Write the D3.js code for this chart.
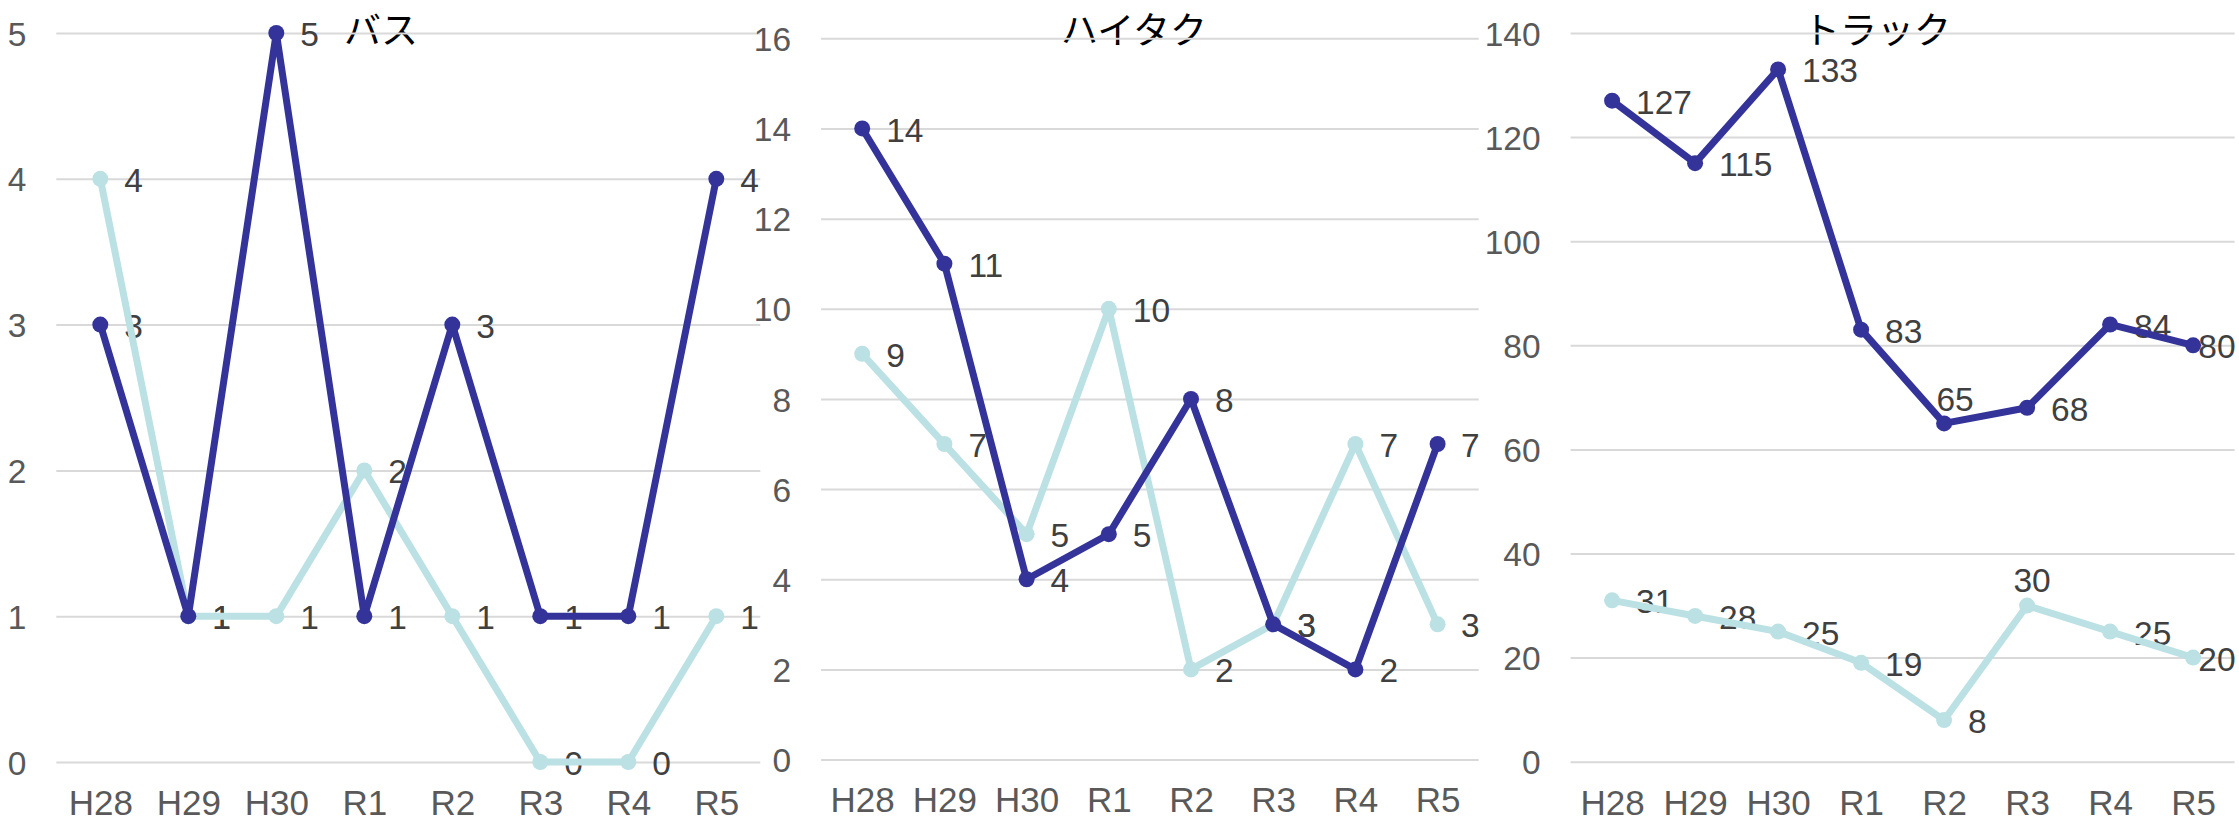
<!DOCTYPE html>
<html><head><meta charset="utf-8">
<script src="https://cdn.jsdelivr.net/npm/d3@7"></script>
<style>html,body{margin:0;padding:0;background:#fff;} svg{display:block}</style>
</head><body>
<script>
// ---- data ----
const categories = ["H28","H29","H30","R1","R2","R3","R4","R5"];
const titles = ["バス","ハイタク","トラック"];
const busDark = [3,1,5,1,3,1,1,4];
const busLight = [4,1,1,2,1,0,0,1];
const taxiDark = [14,11,4,5,8,3,2,7];
const taxiLight = [9,7,5,10,2,3,7,3];
const truckDark = [127,115,133,83,65,68,84,80];
const truckLight = [31,28,25,19,8,30,25,20];
const busTicks = [0,1,2,3,4,5];
const taxiTicks = [0,2,4,6,8,10,12,14,16];
const truckTicks = [0,20,40,60,80,100,120,140];

// ---- layout / style ----
const W = 2239, H = 822;
const DARK = "#333399", LIGHT = "#BBE1E4";
const FONT = "'Liberation Sans', Arial, sans-serif";
const CJK = "'Noto Sans CJK JP', sans-serif";
const FS = 33.5, FSX = 35, FST = 37;

const panels = [
  {title: titles[0], dark: busDark, light: busLight, ticks: busTicks,
   left: 56.3, right: 760.3, top: 33, bottom: 762, titleX: 381, titleY: 43.5},
  {title: titles[1], dark: taxiDark, light: taxiLight, ticks: taxiTicks,
   left: 821.1, right: 1478.7, top: 38.3, bottom: 759.6, titleX: 1134, titleY: 43.5},
  {title: titles[2], dark: truckDark, light: truckLight, ticks: truckTicks,
   left: 1570.6, right: 2234.6, top: 33, bottom: 761.7, titleX: 1877, titleY: 43.5}
];
// manual label placements (panel index -> series -> point index -> [dx, dy] centre offset)
const labelShift = {2: {dark: {4: [11, -25]}, light: {5: [5, -27]}}};

const svg = d3.select("body").append("svg").attr("width", W).attr("height", H);

panels.forEach((p, pi) => {
  const g = svg.append("g");
  const x = d3.scalePoint().domain(categories).range([p.left, p.right]).padding(0.5);
  const ymax = p.ticks[p.ticks.length - 1];
  const y = d3.scaleLinear().domain([0, ymax]).range([p.bottom, p.top]);

  // title
  g.append("text").attr("x", p.titleX).attr("y", p.titleY)
    .attr("text-anchor", "middle").attr("font-family", CJK)
    .attr("font-size", FST).attr("fill", "#000").text(p.title);

  // y axis + gridlines
  const ya = g.append("g").attr("transform", `translate(${p.left},0)`)
    .call(d3.axisLeft(y).tickValues(p.ticks).tickSize(-(p.right - p.left)).tickPadding(30).tickFormat(d3.format("d")));
  ya.select(".domain").remove();
  ya.selectAll(".tick line").attr("stroke", "#D9D9D9").attr("stroke-width", 2);
  ya.selectAll(".tick text").attr("font-family", FONT).attr("font-size", FS)
    .attr("fill", "#595959").attr("dy", "0.36em");

  // x axis
  const xa = g.append("g").attr("transform", `translate(0,${p.bottom})`)
    .call(d3.axisBottom(x).tickSize(0).tickPadding(28));
  xa.select(".domain").remove();
  xa.selectAll(".tick text").attr("font-family", FONT).attr("font-size", FSX).attr("fill", "#595959");

  const series = [{key: "light", vals: p.light, color: LIGHT}, {key: "dark", vals: p.dark, color: DARK}];

  // data labels
  const lg = g.append("g");
  series.forEach(s => {
    s.vals.forEach((v, i) => {
      const px = x(categories[i]), py = y(v) + 1;
      const shift = labelShift[pi] && labelShift[pi][s.key] && labelShift[pi][s.key][i];
      const t = lg.append("text").attr("font-family", FONT).attr("font-size", FS)
        .attr("fill", "#404040").attr("dy", "0.36em").text(v);
      if (shift) {
        t.attr("text-anchor", "middle").attr("x", px + shift[0]).attr("y", py + shift[1]);
      } else {
        t.attr("x", px + 24).attr("y", py);
        const w = t.node().getComputedTextLength();
        if (px + 24 + w > p.right + 1) t.attr("x", p.right + 1 - w);
      }
    });
  });

  // lines + markers
  series.forEach(s => {
    const line = d3.line().x((d, i) => x(categories[i])).y(d => y(d));
    g.append("path").datum(s.vals).attr("d", line).attr("fill", "none")
      .attr("stroke", s.color).attr("stroke-width", 7).attr("stroke-linejoin", "round");
    g.append("g").selectAll("circle").data(s.vals).join("circle")
      .attr("cx", (d, i) => x(categories[i])).attr("cy", d => y(d)).attr("r", 8)
      .attr("fill", s.color);
  });
});
</script>
</body></html>
